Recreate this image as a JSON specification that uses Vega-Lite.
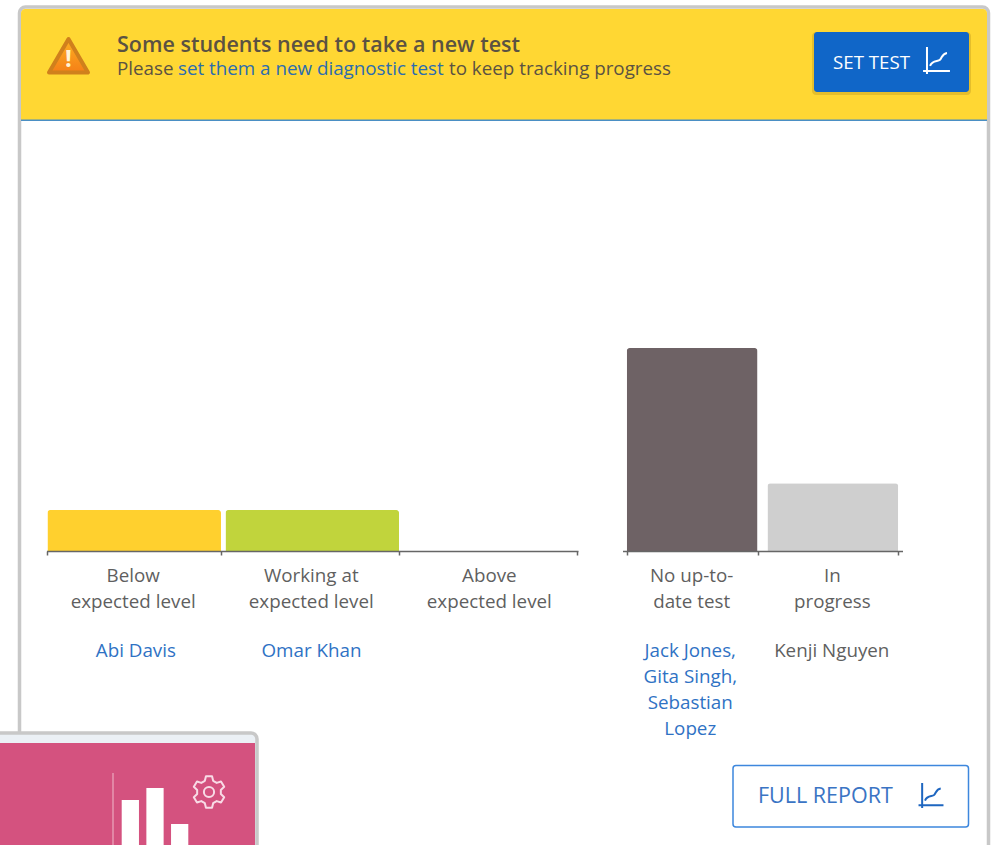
{"$schema":"https://vega.github.io/schema/vega-lite/v6.json","width":991,"height":845,"autosize":{"type":"none"},"padding":0,"background":"white","config":{"view":{"stroke":null},"text":{"font":"Open Sans"}},"resolve":{"scale":{"x":"independent","y":"independent","color":"independent"}},"layer":[
{"data":{"values":[{"part":"frame"}]},"mark":{"type":"rect","fill":"white","stroke":"#c8c8c8","strokeWidth":3.5,"cornerRadius":6},"encoding":{"x":{"field":"part","type":"nominal","scale":{"type":"band","range":[19.5,988.5],"padding":0},"axis":null},"y":{"field":"part","type":"nominal","scale":{"type":"band","range":[7,900],"padding":0},"axis":null}}},
{"data":{"values":[{"part":"banner line"}]},"mark":{"type":"rect","fill":"#4a8fc4"},"encoding":{"x":{"field":"part","type":"nominal","scale":{"type":"band","range":[21,987],"padding":0},"axis":null},"y":{"field":"part","type":"nominal","scale":{"type":"band","range":[119,121],"padding":0},"axis":null}}},
{"data":{"values":[{"part":"banner"}]},"mark":{"type":"rect","fill":"#ffd733","cornerRadiusTopLeft":4,"cornerRadiusTopRight":4},"encoding":{"x":{"field":"part","type":"nominal","scale":{"type":"band","range":[21,987],"padding":0},"axis":null},"y":{"field":"part","type":"nominal","scale":{"type":"band","range":[9,119.5],"padding":0},"axis":null}}},
{"data":{"values":[{"icon":"warning"}]},"mark":{"type":"point","shape":"M0,-0.92 L1,0.8 L-1,0.8 Z","filled":true,"opacity":1,"size":1521,"strokeWidth":4,"strokeJoin":"round","stroke":"#d0801c","fill":{"gradient":"linear","x1":0,"y1":0,"x2":0,"y2":1,"stops":[{"offset":0,"color":"#fdb022"},{"offset":1,"color":"#f57f17"}]}},"encoding":{"x":{"field":"icon","type":"nominal","scale":{"type":"point","range":[68.5,68.5]},"axis":null},"y":{"field":"icon","type":"nominal","scale":{"type":"point","range":[57,57]},"axis":null}}},
{"data":{"values":[{"t":"!"}]},"mark":{"type":"text","font":"Open Sans","fontWeight":"bold","fontSize":24,"color":"#fff3d6","align":"center","baseline":"middle"},"encoding":{"text":{"field":"t"},"x":{"field":"t","type":"nominal","scale":{"type":"point","range":[68.5,68.5]},"axis":null},"y":{"field":"t","type":"nominal","scale":{"type":"point","range":[60,60]},"axis":null}}},
{"data":{"values":[{"t":"Some students need to take a new test"}]},"mark":{"type":"text","font":"Open Sans","fontWeight":600,"fontSize":21.5,"color":"#5b5242","align":"left","baseline":"middle"},"encoding":{"text":{"field":"t"},"x":{"field":"t","type":"nominal","scale":{"type":"point","range":[117,117]},"axis":null},"y":{"field":"t","type":"nominal","scale":{"type":"point","range":[46,46]},"axis":null}}},
{"data":{"values":[{"t":"Please"}]},"mark":{"type":"text","font":"Open Sans","fontSize":18.8,"color":"#5b5242","align":"left","baseline":"middle"},"encoding":{"text":{"field":"t"},"x":{"field":"t","type":"nominal","scale":{"type":"point","range":[117,117]},"axis":null},"y":{"field":"t","type":"nominal","scale":{"type":"point","range":[68.5,68.5]},"axis":null}}},
{"data":{"values":[{"t":"set them a new diagnostic test"}]},"mark":{"type":"text","font":"Open Sans","fontSize":18.8,"color":"#2b6cb0","align":"left","baseline":"middle"},"encoding":{"text":{"field":"t"},"x":{"field":"t","type":"nominal","scale":{"type":"point","range":[178,178]},"axis":null},"y":{"field":"t","type":"nominal","scale":{"type":"point","range":[68.5,68.5]},"axis":null}}},
{"data":{"values":[{"t":"to keep tracking progress"}]},"mark":{"type":"text","font":"Open Sans","fontSize":18.8,"color":"#5b5242","align":"left","baseline":"middle"},"encoding":{"text":{"field":"t"},"x":{"field":"t","type":"nominal","scale":{"type":"point","range":[449,449]},"axis":null},"y":{"field":"t","type":"nominal","scale":{"type":"point","range":[68.5,68.5]},"axis":null}}},
{"data":{"values":[{"part":"set test shadow"}]},"mark":{"type":"rect","fill":"#a8861a","opacity":0.3,"cornerRadius":4},"encoding":{"x":{"field":"part","type":"nominal","scale":{"type":"band","range":[812,971],"padding":0},"axis":null},"y":{"field":"part","type":"nominal","scale":{"type":"band","range":[32,95],"padding":0},"axis":null}}},
{"data":{"values":[{"part":"set test"}]},"mark":{"type":"rect","fill":"#1066c8","cornerRadius":3},"encoding":{"x":{"field":"part","type":"nominal","scale":{"type":"band","range":[814,969],"padding":0},"axis":null},"y":{"field":"part","type":"nominal","scale":{"type":"band","range":[32,92],"padding":0},"axis":null}}},
{"data":{"values":[{"t":"SET TEST"}]},"mark":{"type":"text","font":"Open Sans","fontSize":18.7,"color":"white","align":"left","baseline":"middle"},"encoding":{"text":{"field":"t"},"x":{"field":"t","type":"nominal","scale":{"type":"point","range":[833,833]},"axis":null},"y":{"field":"t","type":"nominal","scale":{"type":"point","range":[62.5,62.5]},"axis":null}}},
{"data":{"values":[{"icon":"chart"}]},"mark":{"type":"point","shape":"M-0.68,-0.96 L-0.68,0.96 M-0.96,0.75 L0.96,0.75 M-0.46,0.39 C-0.3,-0.05 0.1,0.1 0.25,-0.05 C0.4,-0.2 0.4,-0.5 0.75,-0.54","filled":false,"opacity":1,"size":784,"stroke":"white","strokeWidth":2},"encoding":{"x":{"field":"icon","type":"nominal","scale":{"type":"point","range":[936.5,936.5]},"axis":null},"y":{"field":"icon","type":"nominal","scale":{"type":"point","range":[60.5,60.5]},"axis":null}}},
{"data":{"values":[{"category":"Below\nexpected level","students":1},{"category":"Working at\nexpected level","students":1},{"category":"Above\nexpected level","students":0}]},"mark":{"type":"bar","cornerRadiusTopLeft":3,"cornerRadiusTopRight":3},"encoding":{"x":{"field":"category","type":"nominal","sort":null,"scale":{"type":"band","range":[46.5,578],"paddingInner":0.025,"paddingOuter":0.005},"axis":{"title":null,"orient":"bottom","offset":-294,"labelAngle":0,"labelExpr":"split(datum.label,'\\n')","labelOffset":-1.5,"labelFont":"Open Sans","labelFontSize":18.8,"labelColor":"#5f5f5f","labelLineHeight":26,"labelPadding":11,"labelLimit":0,"labelBaseline":"top","tickBand":"extent","tickSize":4,"tickWidth":1.5,"tickColor":"#666666","domainColor":"#666666","domainWidth":1.5,"grid":false,"zindex":1}},"y":{"field":"students","type":"quantitative","scale":{"domain":[0,4.95],"range":[551,348],"nice":false},"axis":null},"color":{"field":"category","type":"nominal","sort":null,"scale":{"domain":["Below\nexpected level","Working at\nexpected level","Above\nexpected level"],"range":["#ffd02e","#c1d43c","#cccccc"]},"legend":null}}},
{"data":{"values":[{"category":"Below\nexpected level","names":"Abi Davis"},{"category":"Working at\nexpected level","names":"Omar Khan"}]},"mark":{"type":"text","font":"Open Sans","fontSize":18.8,"lineBreak":"\n","lineHeight":26,"color":"#2f72c4","align":"center","baseline":"top"},"encoding":{"text":{"field":"names"},"x":{"field":"category","type":"nominal","sort":null,"scale":{"type":"band","domain":["Below\nexpected level","Working at\nexpected level","Above\nexpected level"],"range":[48,575],"padding":0},"axis":null},"y":{"datum":"names","type":"nominal","scale":{"type":"point","range":[642,642]},"axis":null}}},
{"data":{"values":[{"category":"No up-to-\ndate test","students":3},{"category":"In\nprogress","students":1}]},"mark":{"type":"bar","cornerRadiusTopLeft":3,"cornerRadiusTopRight":3},"encoding":{"x":{"field":"category","type":"nominal","sort":null,"scale":{"type":"band","range":[622.5,902.5],"paddingInner":0.07,"paddingOuter":0.03},"axis":{"title":null,"orient":"bottom","offset":-294,"labelAngle":0,"labelExpr":"split(datum.label,'\\n')","labelOffset":-1,"labelFont":"Open Sans","labelFontSize":18.8,"labelColor":"#5f5f5f","labelLineHeight":26,"labelPadding":11,"labelLimit":0,"labelBaseline":"top","tickBand":"extent","tickSize":4,"tickWidth":1.5,"tickColor":"#666666","domainColor":"#666666","domainWidth":1.5,"grid":false,"zindex":1}},"y":{"field":"students","type":"quantitative","scale":{"domain":[0,3],"range":[551,348],"nice":false},"axis":null},"color":{"field":"category","type":"nominal","sort":null,"scale":{"domain":["No up-to-\ndate test","In\nprogress"],"range":["#6e6265","#cfcfcf"]},"legend":null}}},
{"data":{"values":[{"category":"No up-to-\ndate test","names":"Jack Jones,\nGita Singh,\nSebastian\nLopez","linked":"yes"},{"category":"In\nprogress","names":"Kenji Nguyen","linked":"no"}]},"mark":{"type":"text","font":"Open Sans","fontSize":18.8,"lineBreak":"\n","lineHeight":26,"align":"center","baseline":"top"},"encoding":{"text":{"field":"names"},"x":{"field":"category","type":"nominal","sort":null,"scale":{"type":"band","domain":["No up-to-\ndate test","In\nprogress"],"range":[619.5,902.5],"padding":0},"axis":null},"y":{"datum":"names","type":"nominal","scale":{"type":"point","range":[642,642]},"axis":null},"color":{"field":"linked","type":"nominal","scale":{"domain":["yes","no"],"range":["#2f72c4","#5f5f5f"]},"legend":null}}},
{"data":{"values":[{"part":"full report"}]},"mark":{"type":"rect","fill":"white","stroke":"#3d87dd","strokeWidth":1.5,"cornerRadius":3},"encoding":{"x":{"field":"part","type":"nominal","scale":{"type":"band","range":[733,968.5],"padding":0},"axis":null},"y":{"field":"part","type":"nominal","scale":{"type":"band","range":[765.5,827],"padding":0},"axis":null}}},
{"data":{"values":[{"t":"FULL REPORT"}]},"mark":{"type":"text","font":"Open Sans","fontSize":21.5,"color":"#3a74c4","align":"left","baseline":"middle"},"encoding":{"text":{"field":"t"},"x":{"field":"t","type":"nominal","scale":{"type":"point","range":[758,758]},"axis":null},"y":{"field":"t","type":"nominal","scale":{"type":"point","range":[796.5,796.5]},"axis":null}}},
{"data":{"values":[{"icon":"chart"}]},"mark":{"type":"point","shape":"M-0.68,-0.96 L-0.68,0.96 M-0.96,0.75 L0.96,0.75 M-0.46,0.39 C-0.3,-0.05 0.1,0.1 0.25,-0.05 C0.4,-0.2 0.4,-0.5 0.75,-0.54","filled":false,"opacity":1,"size":676,"stroke":"#1e66c0","strokeWidth":2},"encoding":{"x":{"field":"icon","type":"nominal","scale":{"type":"point","range":[931,931]},"axis":null},"y":{"field":"icon","type":"nominal","scale":{"type":"point","range":[795.5,795.5]},"axis":null}}},
{"data":{"values":[{"part":"tile"}]},"mark":{"type":"rect","fill":"#ebf0f5","stroke":"#c8c8c8","strokeWidth":3.5,"cornerRadius":6},"encoding":{"x":{"field":"part","type":"nominal","scale":{"type":"band","range":[-20,257],"padding":0},"axis":null},"y":{"field":"part","type":"nominal","scale":{"type":"band","range":[733,900],"padding":0},"axis":null}}},
{"data":{"values":[{"part":"tile body"}]},"mark":{"type":"rect","fill":"#d4527f"},"encoding":{"x":{"field":"part","type":"nominal","scale":{"type":"band","range":[-20,255],"padding":0},"axis":null},"y":{"field":"part","type":"nominal","scale":{"type":"band","range":[743,900],"padding":0},"axis":null}}},
{"data":{"values":[{"part":"tile divider"}]},"mark":{"type":"rect","fill":"#f0b9cc"},"encoding":{"x":{"field":"part","type":"nominal","scale":{"type":"band","range":[112.5,113.5],"padding":0},"axis":null},"y":{"field":"part","type":"nominal","scale":{"type":"band","range":[773,845],"padding":0},"axis":null}}},
{"data":{"values":[{"item":"a","level":45},{"item":"b","level":57},{"item":"c","level":21}]},"mark":{"type":"bar","fill":"white"},"encoding":{"x":{"field":"item","type":"nominal","sort":null,"scale":{"type":"band","range":[118,192],"paddingInner":0.3,"paddingOuter":0.15},"axis":null},"y":{"field":"level","type":"quantitative","scale":{"domain":[0,57],"range":[845,788],"nice":false},"axis":null}}},
{"data":{"values":[{"icon":"gear"}]},"mark":{"type":"point","shape":"M-0.26,-0.7 L-0.19,-0.98 L0.19,-0.98 L0.26,-0.7 L0.48,-0.57 L0.75,-0.66 L0.95,-0.33 L0.74,-0.13 L0.74,0.13 L0.95,0.33 L0.75,0.66 L0.48,0.57 L0.26,0.7 L0.19,0.98 L-0.19,0.98 L-0.26,0.7 L-0.48,0.57 L-0.75,0.66 L-0.95,0.33 L-0.74,0.13 L-0.74,-0.13 L-0.95,-0.33 L-0.75,-0.66 L-0.48,-0.57 Z M0.32,0 A0.32,0.32 0 1,1 -0.32,0 A0.32,0.32 0 1,1 0.32,0 Z","filled":false,"opacity":1,"size":1024,"stroke":"#f8dbe6","strokeWidth":2,"strokeJoin":"round"},"encoding":{"x":{"field":"icon","type":"nominal","scale":{"type":"point","range":[209,209]},"axis":null},"y":{"field":"icon","type":"nominal","scale":{"type":"point","range":[792,792]},"axis":null}}}
]}
